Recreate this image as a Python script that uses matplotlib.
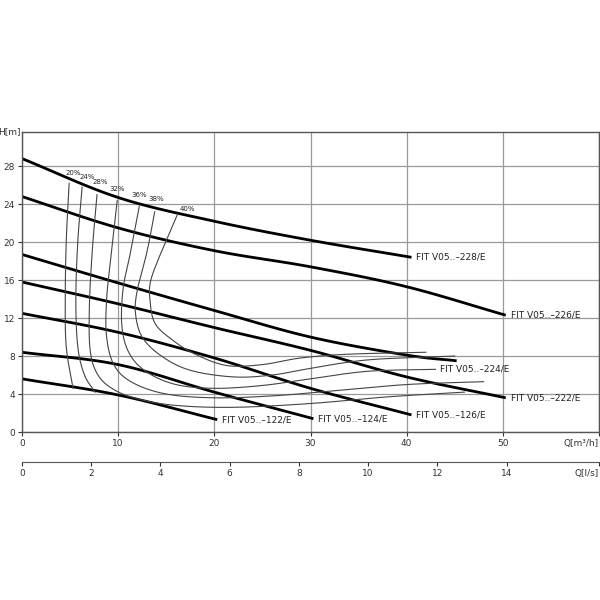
import numpy as np
import matplotlib
matplotlib.use("Agg")
import matplotlib.pyplot as plt

plt.rcParams['font.family'] = ['DejaVu Sans']

# Pump curves (Q m3/h, H m)
curves = {
    "FIT V05..–228/E": ([0, 10, 20, 30, 40.5], [28.8, 24.7, 22.2, 20.2, 18.4]),
    "FIT V05..–226/E": ([0, 10, 20, 30, 40, 50.3], [24.8, 21.5, 19.1, 17.4, 15.3, 12.3]),
    "FIT V05..–224/E": ([0, 10, 20, 30, 40, 45.2], [18.7, 15.7, 12.8, 10.0, 8.1, 7.5]),
    "FIT V05..–222/E": ([0, 10, 20, 30, 40, 50.3], [15.8, 13.5, 11.0, 8.6, 5.8, 3.6]),
    "FIT V05..–126/E": ([0, 10, 20, 30, 40.5], [12.5, 10.5, 7.8, 4.6, 1.8]),
    "FIT V05..–124/E": ([0, 10, 20, 30.3], [8.4, 7.1, 4.2, 1.4]),
    "FIT V05..–122/E": ([0, 10, 20.3], [5.6, 3.9, 1.3]),
}
label_pos = {"FIT V05..–224/E": (43.5, 6.6)}

# Efficiency iso-lines
eff = {
    "20%": ([4.9, 4.6, 4.5, 4.6, 5.3], [26.2, 20, 14, 9, 4.6]),
    "24%": ([6.25, 5.8, 5.6, 5.8, 6.5, 7.6], [25.8, 20, 14, 9, 6, 4.2]),
    "28%": ([7.8, 7.3, 7.0, 7.1, 7.9, 9.5, 12, 16, 22, 30, 38, 46],
            [25, 19, 13, 8.5, 6, 4.5, 3.5, 2.8, 2.6, 3.0, 3.7, 4.2]),
    "32%": ([9.9, 9.3, 8.8, 8.8, 9.6, 11.5, 15, 20, 26, 32, 40, 48],
            [24.4, 19, 14, 10, 7, 5.2, 4.0, 3.6, 3.8, 4.3, 5.0, 5.3]),
    "36%": ([12.2, 11.3, 10.5, 10.4, 11.2, 13, 16, 20, 25, 30, 36, 43],
            [23.8, 19, 15, 11, 8.2, 6.3, 5.0, 4.6, 4.9, 5.6, 6.4, 6.6]),
    "38%": ([13.8, 13.0, 12.0, 11.8, 12.5, 14.5, 17.5, 22, 26, 30, 36, 45],
            [23.2, 19, 15, 12.5, 10, 8, 6.5, 5.8, 6.0, 6.7, 7.6, 8.0]),
    "40%": ([16.2, 14.5, 13.4, 13.3, 13.8, 15.5, 18, 21.3, 25, 29, 34, 42],
            [23.0, 19, 16, 14, 11.5, 9.8, 8.2, 7.0, 7.1, 7.8, 8.2, 8.4]),
}
eff_label_pos = {"20%": (5.3, 27.0), "24%": (6.8, 26.5), "28%": (8.1, 26.0),
                 "32%": (9.9, 25.3), "36%": (12.2, 24.6), "38%": (14.0, 24.2),
                 "40%": (17.2, 23.2)}

xticks = [0, 10, 20, 30, 40, 50]
yticks = [0, 4, 8, 12, 16, 20, 24, 28]
ls_ticks = [0, 2, 4, 6, 8, 10, 12, 14]


def catmull(x, y, n=20):
    p = np.column_stack([x, y]).astype(float)
    p = np.vstack([2 * p[0] - p[1], p, 2 * p[-1] - p[-2]])
    out = []
    for i in range(1, len(p) - 2):
        p0, p1, p2, p3 = p[i - 1], p[i], p[i + 1], p[i + 2]
        for t in np.linspace(0, 1, n, endpoint=False):
            t2, t3 = t * t, t * t * t
            out.append(0.5 * ((2 * p1) + (-p0 + p2) * t + (2 * p0 - 5 * p1 + 4 * p2 - p3) * t2
                              + (-p0 + 3 * p1 - 3 * p2 + p3) * t3))
    out.append(p[-2])
    out = np.array(out)
    return out[:, 0], out[:, 1]


fig = plt.figure(figsize=(6, 6), dpi=100)
ax = fig.add_axes([22 / 600, 1 - 432 / 600, 577 / 600, 300 / 600])
ax.set_xlim(0, 60)
ax.set_ylim(0, 31.6)
ax.set_xticks(xticks + [60])
ax.set_yticks(yticks)
ax.grid(True, color='#999999', lw=0.9)
ax.set_axisbelow(True)
for s in ax.spines.values():
    s.set_color('#555555')
    s.set_linewidth(1.0)
ax.tick_params(labelsize=6.5, length=3, colors='#333333', pad=2)
ax.set_xticklabels([str(t) for t in xticks] + ["Q[m³/h]"])
ax.get_xticklabels()[-1].set_ha('right')
ax.text(-0.1, 31.6, "H[m]", fontsize=6.5, ha='right', va='center', color='#333333')

for name, (q, h) in curves.items():
    xs, ys = catmull(q, h)
    ax.plot(xs, ys, color='black', lw=2.0, solid_capstyle='butt')
    lx, ly = label_pos.get(name, (q[-1] + 0.5, h[-1]))
    ax.text(lx, ly, name, fontsize=6.5, ha='left', va='center', color='#222222')

for name, (q, h) in eff.items():
    xs, ys = catmull(q, h)
    ax.plot(xs, ys, color='#444444', lw=0.8)
    lx, ly = eff_label_pos[name]
    ax.text(lx, ly, name, fontsize=5, ha='center', va='bottom', color='#222222')

ax2 = fig.add_axes([22 / 600, 1 - 462 / 600, 577 / 600, 0.0001])
ax2.set_xlim(0, 60 / 3.6)
for k in ['top', 'left', 'right']:
    ax2.spines[k].set_visible(False)
ax2.spines['bottom'].set_color('#555555')
ax2.set_yticks([])
ax2.set_xticks(ls_ticks + [60 / 3.6])
ax2.set_xticklabels([str(t) for t in ls_ticks] + ["Q[l/s]"])
ax2.get_xticklabels()[-1].set_ha('right')
ax2.tick_params(labelsize=6.5, length=3, colors='#333333', pad=2)

fig.savefig("out.png", dpi=100)
